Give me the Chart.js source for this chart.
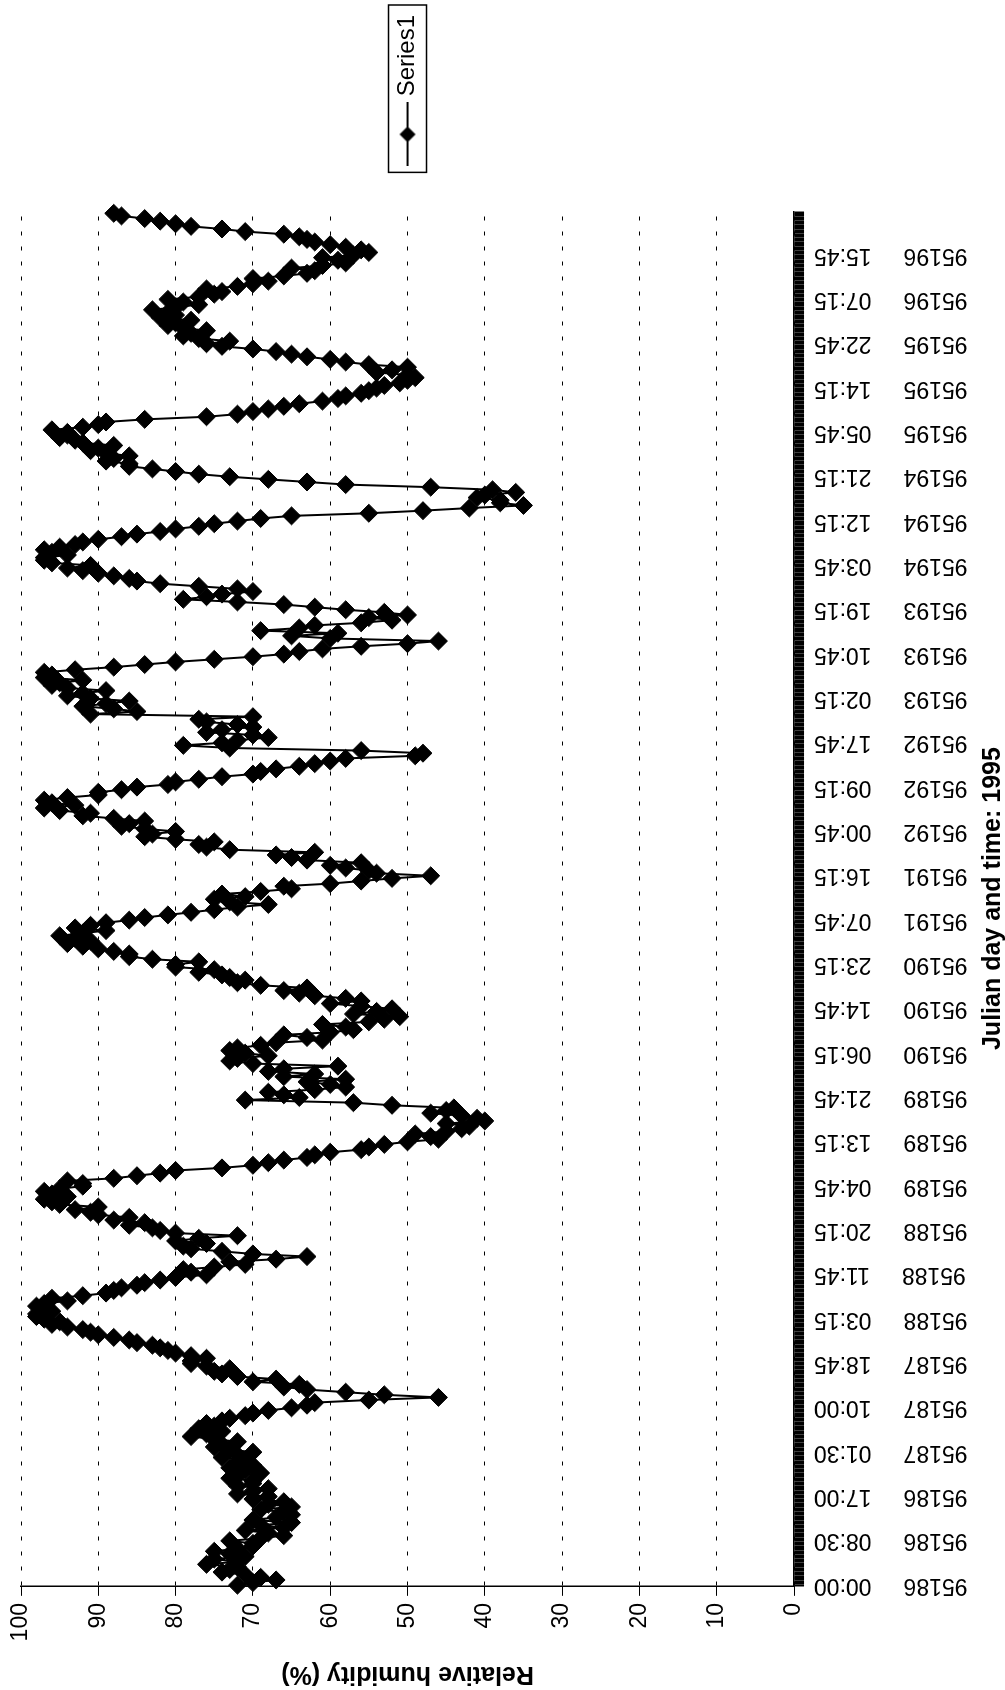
<!DOCTYPE html>
<html>
<head>
<meta charset="utf-8">
<script src="https://cdn.jsdelivr.net/npm/chart.js@4.4.0/dist/chart.umd.min.js"></script>
<style>
  html, body { margin: 0; padding: 0; background: #fff; overflow: hidden; width: 1005px; height: 1690px; }
  /* the chart is drawn landscape and turned a quarter turn to the left, like the scan */
  #wrap { position: absolute; left: 0; top: 0; width: 1690px; height: 1005px;
          transform-origin: 0 0; transform: translateY(1690px) rotate(-90deg); }
</style>
</head>
<body>
<div id="wrap"><canvas id="rhChart" width="1690" height="1005"></canvas></div>
<script>
// Category axis labels (every 34th 15-minute slot carries a label)
const tickLabels = [
  "95186 00:00", "95186 08:30", "95186 17:00", "95187 01:30", "95187 10:00", "95187 18:45",
  "95188 03:15", "95188 11:45", "95188 20:15", "95189 04:45", "95189 13:15", "95189 21:45",
  "95190 06:15", "95190 14:45", "95190 23:15", "95191 07:45", "95191 16:15", "95192 00:45",
  "95192 09:15", "95192 17:45", "95193 02:15", "95193 10:45", "95193 19:15", "95194 03:45",
  "95194 12:15", "95194 21:15", "95195 05:45", "95195 14:15", "95195 22:45", "95196 07:15",
  "95196 15:45"
];

// Relative humidity (%)
const rh = [
  72, 67, 71, 73, 76, 75, 73, 72, 70, 69, 68, 66, 65, 67, 66, 65, 66, 68, 70, 72, 70, 72, 71, 70, 71, 72, 73, 74, 75, 76, 77, 76,
  73, 70, 65, 62, 46, 58, 66, 70, 72, 75, 76, 78, 78, 81, 83, 86, 90, 92, 96, 97, 98, 97, 97, 96, 89, 87, 84, 80, 78, 75, 73, 63, 74,
  79, 80, 72, 82, 86, 88, 90, 93, 95, 97, 96, 95, 92, 88, 82, 74, 68, 63, 60, 55, 50, 47, 45, 42, 40, 43, 45, 52, 71, 66, 62, 60, 58,
  62, 66, 70, 72, 71, 72, 67, 63, 60, 58, 55, 51, 54, 56, 56, 62, 66, 69, 71, 74, 75, 80, 83, 86, 90, 94, 93, 92, 93, 89, 84, 78, 72, 73,
  71, 69, 66, 56, 47, 55, 60, 63, 67, 73, 77, 80, 83, 84, 86, 88, 91, 97, 96, 94, 90, 85, 80, 74, 69, 64, 60, 49, 56, 79, 72, 70, 74,
  72, 77, 91, 88, 89, 91, 92, 94, 95, 97, 97, 88, 80, 70, 64, 56, 46, 65, 69, 62, 52, 50, 58, 66, 79, 74, 72, 82, 86, 90, 94, 96, 97, 96,
  95, 92, 87, 82, 77, 72, 65, 48, 35, 38, 40, 39, 58, 68, 77, 83, 86, 88, 89, 90, 92, 95, 94, 92, 89, 76, 70, 66, 61, 58, 55, 53, 50,
  50, 52, 55, 60, 65, 70, 76, 77, 78, 79, 80, 82, 81, 80, 79, 77, 74, 72, 68, 66, 62, 61, 59, 57, 56, 60, 63, 66, 74, 80, 84, 88
];

// Relative humidity (%) at half past each hour
const rhHalf = [
  70, 69, 74, 72, 72, 71, 75, 70, 73, 66, 71, 69, 70, 65, 69, 68, 70, 72, 68, 70, 73, 69, 73, 72, 74, 70, 75, 72, 78, 74, 75, 74,
  71, 68, 63, 55, 53, 63, 64, 67, 74, 73, 78, 76, 80, 82, 85, 88, 91, 94, 95, 98, 96, 98, 94, 92, 88, 85, 82, 76, 79, 71, 67, 70, 78,
  76, 77, 80, 83, 84, 86, 91, 90, 96, 94, 97, 92, 94, 85, 80, 70, 66, 62, 56, 53, 46, 49, 43, 45, 41, 47, 44, 57, 64, 68, 58, 63, 66,
  68, 59, 73, 68, 73, 69, 61, 66, 57, 61, 53, 57, 52, 60, 58, 64, 63, 72, 73, 77, 80, 77, 86, 88, 92, 91, 95, 89, 91, 86, 81, 75, 68, 75,
  74, 65, 60, 52, 54, 58, 56, 65, 62, 76, 75, 84, 80, 87, 84, 92, 95, 93, 97, 90, 87, 81, 77, 70, 67, 62, 58, 48, 73, 74, 68, 76, 70,
  76, 70, 85, 92, 86, 94, 89, 96, 92, 96, 93, 84, 75, 66, 61, 50, 60, 59, 64, 56, 55, 53, 62, 72, 76, 70, 77, 85, 88, 92, 91, 97, 94, 97,
  93, 90, 85, 80, 75, 69, 55, 42, 38, 41, 36, 47, 63, 73, 80, 86, 89, 86, 91, 88, 93, 94, 96, 90, 84, 72, 68, 64, 59, 56, 54, 51, 49,
  54, 50, 58, 63, 67, 74, 73, 79, 76, 81, 78, 80, 83, 77, 81, 75, 76, 70, 70, 63, 65, 58, 61, 55, 58, 62, 64, 71, 78, 82, 87
];

const categoryCount = 1054; // 15-minute slots along the time axis
const labelEvery = 34;      // one label every 34 slots
const slotsPerHour = 4;

// on-the-hour and half-past readings, in time order
const points = [];
rh.forEach((v, i) => {
  points.push({ x: i * slotsPerHour, y: v });
  if (i < rhHalf.length) points.push({ x: i * slotsPerHour + slotsPerHour / 2, y: rhHalf[i] });
});

Chart.defaults.font.family = '"Liberation Sans", Arial, sans-serif';
Chart.defaults.color = "#000";

// legend symbol: line with a diamond, Excel style
const legendIcon = document.createElement("canvas");
legendIcon.width = 64;
legendIcon.height = 20;
const ic = legendIcon.getContext("2d");
ic.strokeStyle = "#000";
ic.lineWidth = 2;
ic.beginPath(); ic.moveTo(0, 10); ic.lineTo(64, 10); ic.stroke();
ic.fillStyle = "#000";
ic.beginPath(); ic.moveTo(32, 2); ic.lineTo(40, 10); ic.lineTo(32, 18); ic.lineTo(24, 10); ic.closePath(); ic.fill();

// box round the legend
const legendFrame = {
  id: "legendFrame",
  afterDraw(chart) {
    const box = chart.legend.legendHitBoxes[0];
    if (!box) return;
    const ctx = chart.ctx;
    const cy = box.top + box.height / 2;
    ctx.save();
    ctx.strokeStyle = "#000";
    ctx.lineWidth = 1.5;
    ctx.strokeRect(box.left - 12, cy - 19, box.width + 22, 38);
    ctx.restore();
  }
};

new Chart(document.getElementById("rhChart"), {
  type: "line",
  data: {
    datasets: [{
      label: "Series1",
      data: points,
      borderColor: "#000",
      backgroundColor: "#000",
      borderWidth: 2,
      pointStyle: "rectRot",
      pointRadius: 9,
      pointBorderWidth: 1,
      pointBackgroundColor: "#000",
      pointBorderColor: "#000",
      tension: 0,
      clip: false
    }]
  },
  options: {
    responsive: false,
    animation: false,
    devicePixelRatio: 1,
    layout: { padding: { left: 0, right: 5, top: 21, bottom: 2 } },
    plugins: {
      tooltip: { enabled: false },
      legend: {
        position: "right",
        fullSize: false,
        labels: {
          usePointStyle: true,
          pointStyleWidth: 52,
          padding: 51,
          font: { size: 24 },
          color: "#000",
          generateLabels: chart =>
            Chart.defaults.plugins.legend.labels.generateLabels(chart).map(l => ({ ...l, pointStyle: legendIcon }))
        }
      }
    },
    scales: {
      x: {
        type: "linear",
        bounds: "data",
        min: -0.5,
        max: categoryCount - 0.5,
        afterBuildTicks: axis => {
          axis.ticks = Array.from({ length: categoryCount }, (_, i) => ({ value: i }));
        },
        ticks: {
          autoSkip: false,
          minRotation: 90,
          maxRotation: 90,
          padding: 10,
          font: { size: 23 },
          color: "#000",
          callback: v => {
            if (v % labelEvery !== 0) return "";
            const t = tickLabels[v / labelEvery];
            return t ? t.replace(" ", "     ") : "";
          }
        },
        grid: { drawOnChartArea: false, drawTicks: true, tickLength: 10, tickColor: "#000", tickWidth: 2, color: "#000" },
        border: { display: true, color: "#000", width: 1.5 },
        title: {
          display: true,
          text: "Julian day and time: 1995",
          font: { size: 25, weight: "bold", lineHeight: 0.8 },
          color: "#000",
          padding: { top: 5.5, bottom: 0 }
        }
      },
      y: {
        min: 0,
        max: 100,
        ticks: { stepSize: 10, padding: 7.2, font: { size: 23 }, color: "#000" },
        grid: { color: "#000", lineWidth: 1, tickLength: 10, tickColor: "#000" },
        border: { display: true, color: "#000", width: 1.5, dash: [4, 11] },
        title: {
          display: true,
          text: "Relative humidity (%)",
          font: { size: 25, weight: "bold" },
          color: "#000",
          padding: { top: 1, bottom: 10.4 }
        }
      }
    }
  },
  plugins: [legendFrame]
});
</script>
</body>
</html>
